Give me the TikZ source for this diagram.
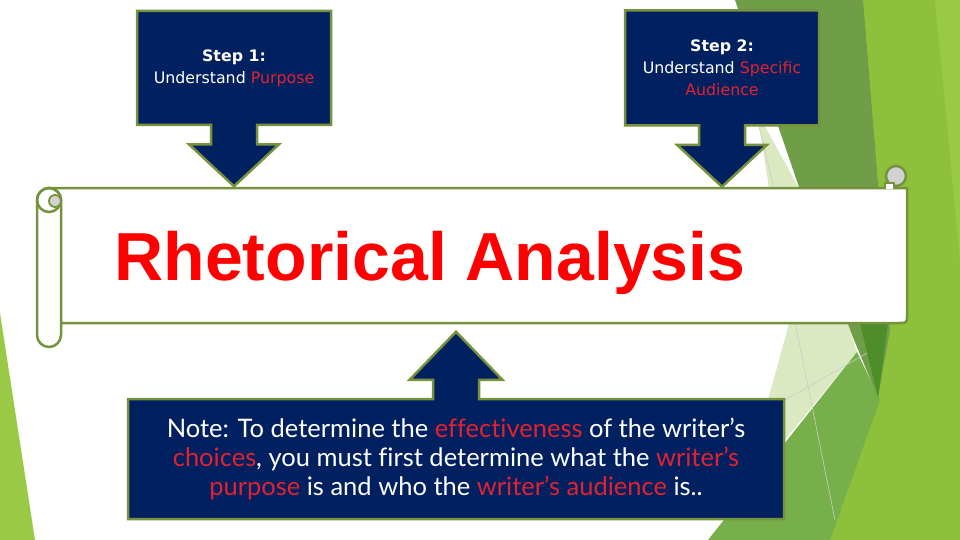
\documentclass[tikz,border=0pt]{standalone}
\usepackage{fontspec}
\setmainfont{DejaVu Sans}
\newfontfamily\titlefont{Liberation Sans}
\newfontfamily\notefont{Lato}[Ligatures=NoCommon]
\usetikzlibrary{shapes.arrows}
\definecolor{navy}{HTML}{002060}
\definecolor{oliveline}{HTML}{76923C}
\definecolor{hlred}{HTML}{E3222F}
\definecolor{facetlime}{HTML}{8EC13B}
\definecolor{facetlight}{HTML}{9ACA45}
\definecolor{facetmedium}{HTML}{6F9D48}
\definecolor{facetpale}{HTML}{DAE9C2}
\definecolor{facetmid}{HTML}{77B04A}
\definecolor{facetdark}{HTML}{4F8D2B}
\newcommand{\hl}[1]{\textcolor{hlred}{#1}}

\begin{document}
\begin{tikzpicture}[x=1pt, y=-1pt, align=center,
    callout/.style={arrow box, draw=oliveline, line width=2.5pt, fill=navy, text=white,
      inner sep=2pt, arrow box shaft width=46pt, arrow box head extend=22pt,
      font=\fontsize{15.8pt}{22pt}\selectfont},
    scrolledge/.style={draw=oliveline, line width=2.5pt}]
  \useasboundingbox (0,0) rectangle (960,540);
  \fill[white] (0,0) rectangle (960,540);
  % background facets
  \fill[facetlime] (863,0) -- (960,0) -- (960,540) -- (800,540) -- (872,390) -- cycle;
  \fill[facetlight] (935,0) -- (960,0) -- (960,260) -- cycle;
  \fill[facetmedium] (735,0) -- (863,0) -- (890,330) -- (878,398) -- (850,330) -- (800,190) -- cycle;
  \fill[facetpale] (757,112) -- (800,190) -- (850,330) -- (857,352) -- (760,470) -- (768,400) -- (790,320) -- cycle;
  \fill[facetmid] (857,352) -- (880,400) -- (830,540) -- (708,540) -- cycle;
  \fill[facetdark] (860,323) -- (888,323) -- (878,398) -- cycle;
  \fill[facetlight] (0,313) -- (35,540) -- (0,540) -- cycle;
  \draw[gray!40, line width=0.6pt] (757,118) -- (773,185);
  \draw[gray!40, line width=0.6pt] (795,322) -- (835,520);
  \draw[gray!40, line width=0.6pt] (780,403) -- (867,353);

  % scroll
  \draw[scrolledge, fill=white] (49,188) -- (907,188) -- (907,315) .. controls (907,323) .. (899,323) -- (49,323) -- cycle;
  \draw[scrolledge, fill=gray!35] (896,176) circle (10);
  \draw[scrolledge, fill=white, line width=1.5pt] (885,189) -- (885,183) -- (894,183) -- (894,189);
  \draw[scrolledge, fill=white, rounded corners=12pt] (37,188) rectangle (61,347);
  \draw[scrolledge] (49,200) circle (12);
  \draw[scrolledge, fill=gray!35, line width=1.8pt] (55,201) circle (6);
  \node[font=\titlefont\bfseries\fontsize{68pt}{80pt}\selectfont, text=red, anchor=base] (title) at (430,280) {Rhetorical Analysis};

  % callouts
  \node[callout, minimum width=194pt, minimum height=114pt, arrow box tip angle=94,
    arrow box arrows={south:60pt}] (step_one) at (234,68) {\textbf{Step 1:}\\Understand \hl{Purpose}};
  \node[callout, minimum width=194pt, minimum height=115pt, arrow box tip angle=94,
    arrow box arrows={south:60pt}] (step_two) at (722,68) {\textbf{Step 2:}\\Understand \hl{Specific}\\\hl{Audience}};
  \node[callout, font=\notefont\fontsize{25.5pt}{29pt}\selectfont, minimum width=656pt, minimum height=120pt,
    arrow box tip angle=88, arrow box head extend=23.5pt, arrow box arrows={north:66pt}] (note_box) at (456,459)
    {Note: To determine the \hl{effectiveness} of the writer’s\\\hl{choices}, you must first determine what the \hl{writer’s}\\\hl{purpose} is and who the \hl{writer’s audience} is..};
\end{tikzpicture}
\end{document}
